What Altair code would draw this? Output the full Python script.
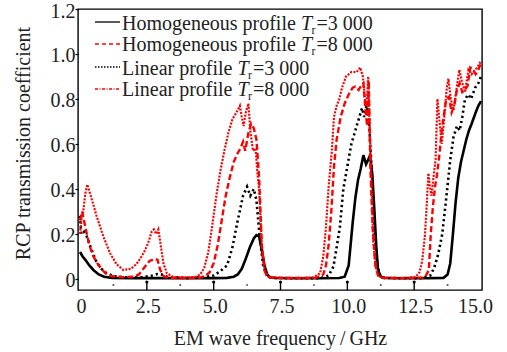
import altair as alt
import pandas as pd

FONT = "Liberation Serif"
TXT = "#222222"

# ---- data ----
hom3_f = [0, 0.1, 0.2, 0.35, 0.5, 0.7, 0.9, 1.2, 2.0, 3.0, 4.0, 5.0, 5.5, 5.75, 5.9, 6.05, 6.2, 6.35, 6.5, 6.6,
          6.7, 6.8, 6.9, 7.0, 7.1, 7.3, 8.0, 9.0, 9.7, 9.9, 10.05, 10.2, 10.3, 10.4, 10.5, 10.6, 10.7, 10.78, 10.85,
          10.93, 11.0, 11.08, 11.15, 11.25, 11.4, 12.0, 13.0, 13.6, 13.75, 13.85, 13.95, 14.05, 14.15, 14.25,
          14.35, 14.45, 14.55, 14.65, 14.8, 14.9, 15.0]
hom3_v = [0.12, 0.1, 0.085, 0.06, 0.04, 0.02, 0.01, 0.005, 0.004, 0.004, 0.004, 0.004, 0.005, 0.01, 0.02, 0.045,
          0.09, 0.14, 0.18, 0.195, 0.19, 0.13, 0.06, 0.02, 0.008, 0.004, 0.003, 0.003, 0.004, 0.01, 0.06, 0.25,
          0.36, 0.44, 0.49, 0.55, 0.51, 0.53, 0.55, 0.47, 0.33, 0.15, 0.04, 0.01, 0.004, 0.003, 0.003, 0.005,
          0.02, 0.07, 0.2, 0.34, 0.45, 0.52, 0.57, 0.62, 0.66, 0.69, 0.74, 0.77, 0.79]

hom8_f = [0, 0.08, 0.2, 0.35, 0.5, 0.7, 0.95, 1.2, 1.6, 2.0, 2.2, 2.4, 2.6, 2.8, 2.9, 3.0, 3.15, 3.4, 4.0, 4.5,
          4.7, 4.85, 5.0, 5.15, 5.3, 5.45, 5.6, 5.75, 5.9, 6.0, 6.1, 6.18, 6.3, 6.4, 6.5, 6.6, 6.7, 6.8, 6.9, 7.0,
          7.2, 8.0, 8.8, 9.1, 9.2, 9.3, 9.4, 9.5, 9.6, 9.75, 9.9, 10.05, 10.2, 10.3, 10.42, 10.52, 10.6, 10.68,
          10.74, 10.8, 10.86, 10.95, 11.05, 11.15, 11.3, 12.0, 12.9, 13.05, 13.12, 13.2, 13.28, 13.35, 13.45,
          13.53, 13.6, 13.7, 13.8, 13.9, 14.0, 14.1, 14.2, 14.3, 14.4, 14.5, 14.6, 14.7, 14.8, 14.9, 15.0]
hom8_v = [0.26, 0.3, 0.23, 0.15, 0.1, 0.06, 0.025, 0.012, 0.008, 0.01, 0.02, 0.05, 0.08, 0.09, 0.085, 0.04, 0.01,
          0.005, 0.004, 0.006, 0.015, 0.03, 0.07, 0.15, 0.26, 0.37, 0.45, 0.52, 0.56, 0.58, 0.61, 0.57, 0.65,
          0.69, 0.67, 0.62, 0.45, 0.15, 0.04, 0.01, 0.005, 0.004, 0.005, 0.02, 0.06, 0.15, 0.3, 0.5, 0.62, 0.72,
          0.78, 0.82, 0.85, 0.855, 0.84, 0.86, 0.87, 0.75, 0.68, 0.88, 0.5, 0.22, 0.06, 0.015, 0.005, 0.004,
          0.006, 0.04, 0.2, 0.32, 0.41, 0.46, 0.56, 0.66, 0.72, 0.8, 0.81, 0.74, 0.77, 0.84, 0.87, 0.83, 0.84,
          0.86, 0.94, 0.93, 0.91, 0.93, 0.96]

lin3_f = [0, 0.05, 0.15, 0.25, 0.4, 0.6, 0.8, 1.0, 1.3, 1.8, 2.3, 2.7, 2.9, 3.05, 3.3, 4.0, 4.6, 5.0, 5.25, 5.5,
          5.7, 5.9, 6.1, 6.25, 6.37, 6.5, 6.6, 6.72, 6.85, 7.0, 7.2, 8.0, 9.0, 9.3, 9.48, 9.6, 9.72, 9.85, 10.0,
          10.15, 10.3, 10.45, 10.55, 10.63, 10.72, 10.8, 10.88, 10.97, 11.08, 11.2, 11.35, 12.0, 12.8, 13.1,
          13.25, 13.4, 13.55, 13.7, 13.85, 13.97, 14.1, 14.2, 14.3, 14.4, 14.53, 14.63, 14.78, 14.9, 15.0]
lin3_v = [0.28, 0.2, 0.21, 0.19, 0.14, 0.08, 0.045, 0.025, 0.012, 0.006, 0.008, 0.015, 0.022, 0.02, 0.008, 0.004,
          0.008, 0.015, 0.035, 0.06, 0.14, 0.26, 0.37, 0.41, 0.37, 0.4, 0.35, 0.19, 0.06, 0.012, 0.005, 0.003,
          0.004, 0.015, 0.055, 0.14, 0.23, 0.4, 0.5, 0.6, 0.66, 0.72, 0.76, 0.72, 0.77, 0.72, 0.55, 0.32, 0.1,
          0.02, 0.005, 0.003, 0.004, 0.015, 0.05, 0.11, 0.2, 0.36, 0.53, 0.63, 0.68, 0.66, 0.72, 0.8, 0.82, 0.8,
          0.85, 0.87, 0.9]

lin8_f = [0, 0.06, 0.12, 0.2, 0.27, 0.35, 0.45, 0.62, 0.87, 1.12, 1.37, 1.62, 1.9, 2.1, 2.25, 2.4, 2.55, 2.68,
          2.76, 2.85, 2.93, 3.02, 3.12, 3.25, 3.5, 4.0, 4.3, 4.5, 4.65, 4.8, 4.95, 5.1, 5.25, 5.4, 5.55, 5.7, 5.85,
          5.98, 6.05, 6.12, 6.2, 6.3, 6.37, 6.47, 6.57, 6.63, 6.7, 6.8, 6.92, 7.05, 7.3, 8.0, 8.7, 8.98, 9.1, 9.2,
          9.3, 9.42, 9.5, 9.6, 9.7, 9.8, 9.95, 10.15, 10.35, 10.48, 10.58, 10.66, 10.72, 10.78, 10.85, 10.91,
          10.97, 11.05, 11.15, 11.3, 12.0, 12.55, 12.7, 12.8, 12.9, 12.97, 13.03, 13.09, 13.15, 13.22, 13.3,
          13.37, 13.44, 13.53, 13.62, 13.72, 13.78, 13.87, 13.97, 14.09, 14.19, 14.28, 14.4, 14.53, 14.65, 14.78,
          14.86, 15.0]
lin8_v = [0.2, 0.27, 0.3, 0.38, 0.42, 0.39, 0.35, 0.28, 0.19, 0.115, 0.065, 0.04, 0.045, 0.065, 0.09, 0.12, 0.16,
          0.21, 0.22, 0.2, 0.22, 0.15, 0.07, 0.025, 0.008, 0.006, 0.008, 0.02, 0.05, 0.12, 0.24, 0.37, 0.48, 0.57,
          0.65, 0.71, 0.74, 0.77, 0.72, 0.68, 0.74, 0.78, 0.66, 0.57, 0.58, 0.48, 0.4, 0.15, 0.03, 0.01, 0.006,
          0.005, 0.006, 0.025, 0.1, 0.23, 0.41, 0.57, 0.72, 0.77, 0.8, 0.85, 0.9, 0.92, 0.92, 0.94, 0.9, 0.8,
          0.77, 0.9, 0.62, 0.4, 0.17, 0.06, 0.015, 0.006, 0.005, 0.008, 0.03, 0.08, 0.19, 0.33, 0.47, 0.41,
          0.37, 0.45, 0.53, 0.8, 0.71, 0.6, 0.71, 0.85, 0.89, 0.8, 0.75, 0.85, 0.93, 0.88, 0.83, 0.93, 0.91,
          0.93, 0.94, 0.97]

legend_names = ["Homogeneous profile", "Homogeneous profile", "Linear profile", "Linear profile"]
legend_tr = ["3 000", "8 000", "3 000", "8 000"]
x_ticks = [0, 2.5, 5.0, 7.5, 10.0, 12.5, 15.0]
y_ticks = [0, 0.2, 0.4, 0.6, 0.8, 1.0, 1.2]
major_marks = [2.5, 5.0, 7.5, 10.0, 12.5]
minor_marks = [1.25, 3.75, 6.25, 8.75, 11.25, 13.75]

# ---- styles ----
styles = [
    dict(color="black", dash=None, width=2.6),
    dict(color="#ff0000", dash=[6, 3], width=2.4),
    dict(color="black", dash=[2.2, 3], width=2.6),
    dict(color="#ff0000", dash=[2, 1.4], width=2.2),
]
series = [(hom3_f, hom3_v), (hom8_f, hom8_v), (lin3_f, lin3_v), (lin8_f, lin8_v)]

W, H = 404, 281
xscale = alt.Scale(domain=[-0.075, 15.037], nice=False, zero=False)
yscale = alt.Scale(domain=[-0.049, 1.2], nice=False, zero=False)

font_kw = dict(labelFont=FONT, labelFontSize=20, labelColor=TXT,
               titleFont=FONT, titleFontSize=20, titleColor=TXT, titleFontWeight="normal")

x_axis = alt.Axis(values=x_ticks, labelExpr="datum.value == 0 ? '0' : format(datum.value, '.1f')",
                  ticks=False, domain=False, grid=False, labelPadding=6, labelFlush=False,
                  labelOffset={"condition": {"test": "datum.value >= 15", "value": -6}, "value": 1},
                  title="EM wave frequency\u2009/\u2009GHz", titleX=202, titleY=48,
                  titleBaseline="middle", titleAlign="center", **font_kw)
y_axis = alt.Axis(values=y_ticks, labelExpr="datum.value == 0 ? '0' : format(datum.value, '.1f')",
                  ticks=True, tickSize=3, tickColor="black", tickWidth=1.2, domain=False, grid=False,
                  labelPadding=0, labelFlush=False, labelOffset=2,
                  title="RCP transmission coefficient", titleX=-55, titleY=134,
                  titleBaseline="middle", titleAlign="center", **font_kw)

X = alt.X("f:Q", scale=xscale, axis=x_axis)
Y = alt.Y("v:Q", scale=yscale, axis=y_axis)

layers = []
order = [0, 2, 1, 3]
for i in order:
    f, v = series[i]
    df = pd.DataFrame({"f": f, "v": v})
    st = styles[i]
    mk = dict(color=st["color"], strokeWidth=st["width"], clip=True)
    if st["dash"]:
        mk["strokeDash"] = st["dash"]
    layers.append(alt.Chart(df).mark_line(**mk).encode(x=X, y=Y))

# inward ticks on the bottom frame
maj = pd.DataFrame({"f": major_marks})
mino = pd.DataFrame({"f": minor_marks})
layers.append(alt.Chart(maj).mark_rule(color="black", strokeWidth=1.4).encode(
    x=X, y=alt.value(H - 8), y2=alt.value(H)))
layers.append(alt.Chart(maj).mark_point(filled=True, color="black", size=10, opacity=1).encode(
    x=X, y=alt.value(H - 8)))
layers.append(alt.Chart(mino).mark_point(filled=True, color="#444444", size=3, opacity=1, shape="square").encode(
    x=X, y=alt.value(H - 5)))

# manual legend (italic T with subscript r)
one = pd.DataFrame({"a": [0]})
line_y = [13, 35, 58, 80]
base_y = [21, 42, 66, 87]
t_x = {"Homogeneous profile": 223, "Linear profile": 159.5}
legend_dash = [None, [4, 3], [1.5, 1.5], [3, 1.5, 1, 1.5]]
for i in range(4):
    st = styles[i]
    mk = dict(color=st["color"], strokeWidth=1.3)
    if legend_dash[i]:
        mk["strokeDash"] = legend_dash[i]
    layers.append(alt.Chart(one).mark_rule(**mk).encode(
        x=alt.value(17), x2=alt.value(42), y=alt.value(line_y[i])))
    tx = t_x[legend_names[i]]
    common = dict(font=FONT, color=TXT, baseline="alphabetic", align="left")
    layers.append(alt.Chart(one).mark_text(text=legend_names[i], fontSize=20, **common).encode(
        x=alt.value(44), y=alt.value(base_y[i])))
    layers.append(alt.Chart(one).mark_text(text="T", fontSize=20, fontStyle="italic", **common).encode(
        x=alt.value(tx), y=alt.value(base_y[i])))
    layers.append(alt.Chart(one).mark_text(text="r", fontSize=12, **common).encode(
        x=alt.value(tx + 10.5), y=alt.value(base_y[i] + 4)))
    layers.append(alt.Chart(one).mark_text(text="=" + legend_tr[i], fontSize=20, **common).encode(
        x=alt.value(tx + 15.5), y=alt.value(base_y[i])))

chart = alt.layer(*layers).properties(
    width=W, height=H,
    autosize=alt.AutoSizeParams(type="none"),
    padding={"left": 78, "top": 9, "right": 25, "bottom": 62},
    background="white",
).configure_view(
    stroke="black", strokeWidth=1.4
).configure_axis(
    **font_kw
)

chart.save("out.html", embed_options={"renderer": "svg", "actions": False})
